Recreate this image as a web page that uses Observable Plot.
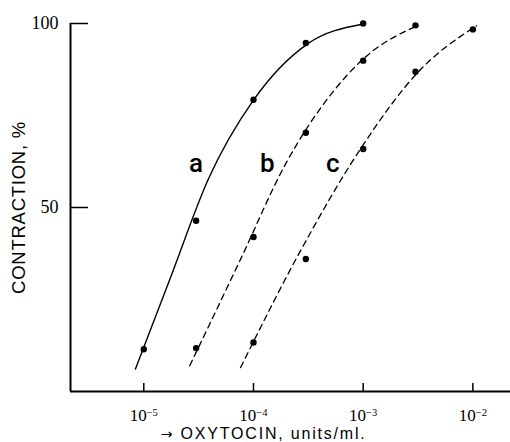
<!DOCTYPE html>
<html><head><meta charset="utf-8">
<script src="https://cdn.jsdelivr.net/npm/d3@7"></script>
<script src="https://cdn.jsdelivr.net/npm/@observablehq/plot@0.6"></script>
<style>
body{margin:0;background:#fff;}
svg{display:block;}
</style></head><body><div id="chart"></div>
<script>
// axis ticks and labels
const xTicks = [1e-5, 1e-4, 1e-3, 1e-2];
const xTickLabels = ["10⁻⁵", "10⁻⁴", "10⁻³", "10⁻²"];
const yTicks = [50, 100];
const yTickLabels = ["50", "100"];
const xDomain = [10 ** -5.668, 10 ** -1.657];
const yDomain = [0, 100];
const xTitle = "→ OXYTOCIN, units/ml.";
const yTitle = "CONTRACTION, %";

// measured points (dose in units/ml, contraction %)
const doseA = [1e-5, 3e-5, 1e-4, 3e-4, 1e-3];
const pctA  = [11.5, 46.4, 79.3, 94.7, 100];
const doseB = [3e-5, 1e-4, 3e-4, 1e-3, 3e-3];
const pctB  = [11.8, 42.0, 70.3, 89.9, 99.5];
const doseC = [1e-4, 3e-4, 1e-3, 3e-3, 1e-2];
const pctC  = [13.3, 36.0, 65.9, 86.9, 98.4];

// fitted curves (log10 dose, %)
const curveALog = [-5.076, -4.757, -4.410, -3.997, -3.510, -3.009];
const curveAPct = [6.1, 30.9, 57.8, 79.3, 94.4, 99.8];
const curveBLog = [-4.581, -4.118, -3.708, -3.268, -3.009, -2.493];
const curveBPct = [7.0, 35.9, 61.8, 81.7, 90.1, 99.6];
const curveCLog = [-4.118, -3.572, -3.025, -2.496, -1.967];
const curveCPct = [6.5, 38.2, 65.9, 86.9, 99.4];

// curve labels
const labelNames = ["a", "b", "c"];
const labelLog = [-4.524, -3.875, -3.278];
const labelPct = [61.8, 61.8, 61.8];

const pts = (d, p) => d.map((x, i) => ({x, y: p[i]}));
const crv = (l, p) => l.map((e, i) => ({x: 10 ** e, y: p[i]}));

const points = [...pts(doseA, pctA), ...pts(doseB, pctB), ...pts(doseC, pctC)];
const labels = labelNames.map((t, i) => ({t, x: 10 ** labelLog[i], y: labelPct[i]}));

const serif = "'Liberation Serif', serif";
const sans = "'Liberation Sans', Arial, sans-serif";

const chart = Plot.plot({
  width: 510,
  height: 442,
  marginLeft: 70,
  marginRight: 0,
  marginTop: 23,
  marginBottom: 51,
  style: {background: "#fff", color: "#000"},
  x: {type: "log", domain: xDomain, label: null},
  y: {domain: yDomain, label: null},
  marks: [
    Plot.ruleY([0], {stroke: "#000", strokeWidth: 2}),
    Plot.ruleX([xDomain[0]], {y1: 0, y2: 100, stroke: "#000", strokeWidth: 2}),
    Plot.axisX({ticks: xTicks, tickFormat: d => xTickLabels[xTicks.indexOf(d)], tickSize: -8, tickPadding: 25,
      strokeWidth: 1.5, fontSize: 17, fontFamily: serif, label: null}),
    Plot.axisY({ticks: yTicks, tickFormat: d => yTickLabels[yTicks.indexOf(d)], tickSize: -18, tickPadding: 30,
      strokeWidth: 1.5, fontSize: 18, fontFamily: serif, label: null}),
    Plot.line(crv(curveALog, curveAPct), {x: "x", y: "y", curve: "monotone-x", stroke: "#000", strokeWidth: 1.4}),
    Plot.line(crv(curveBLog, curveBPct), {x: "x", y: "y", curve: "monotone-x", stroke: "#000", strokeWidth: 1.3, strokeDasharray: "6,4.5"}),
    Plot.line(crv(curveCLog, curveCPct), {x: "x", y: "y", curve: "monotone-x", stroke: "#000", strokeWidth: 1.3, strokeDasharray: "6,4.5"}),
    Plot.dot(points, {x: "x", y: "y", r: 3.2, fill: "#000", stroke: null}),
    Plot.text(labels, {x: "x", y: "y", text: "t", fontSize: 26, fontWeight: 500, fontFamily: "Roboto, sans-serif", fill: "#000"}),
    Plot.text([xTitle], {frameAnchor: "bottom", textAnchor: "middle", lineAnchor: "middle", dx: -27, dy: 42.5, fontSize: 16, fontFamily: sans, fill: "#000"}),
    Plot.text([yTitle], {frameAnchor: "left", textAnchor: "middle", lineAnchor: "middle", rotate: -90, dx: -51.5, fontSize: 18.5, fontFamily: sans, fill: "#000"})
  ]
});
document.getElementById("chart").append(chart);

// letter spacing for titles, larger arrow glyph, and superscript exponents on x tick labels
const sup = {"⁻": "−", "⁰": "0", "¹": "1", "²": "2", "³": "3", "⁴": "4", "⁵": "5", "⁶": "6", "⁷": "7", "⁸": "8", "⁹": "9"};
d3.select(chart).selectAll("text").each(function() {
  const s = this.textContent;
  const t = d3.select(this);
  if (s === xTitle) {
    t.style("letter-spacing", "1.8px");
    const arrow = s.slice(0, 1), rest = s.slice(1);
    t.text(null);
    t.append("tspan").attr("font-family", "'DejaVu Sans', sans-serif").attr("font-size", "0.9em").text(arrow);
    t.append("tspan").text(rest);
  } else if (s === yTitle) {
    t.style("letter-spacing", "0.75px");
  } else if (xTickLabels.includes(s)) {
    const base = s.replace(/[⁻⁰¹²³⁴⁵⁶⁷⁸⁹]/g, "");
    const exp = [...s.replace(base, "")].map(c => sup[c] || c).join("");
    t.text(base);
    t.append("tspan").attr("dy", "-0.45em").attr("font-size", "0.62em").text(exp);
  }
});
</script></body></html>
